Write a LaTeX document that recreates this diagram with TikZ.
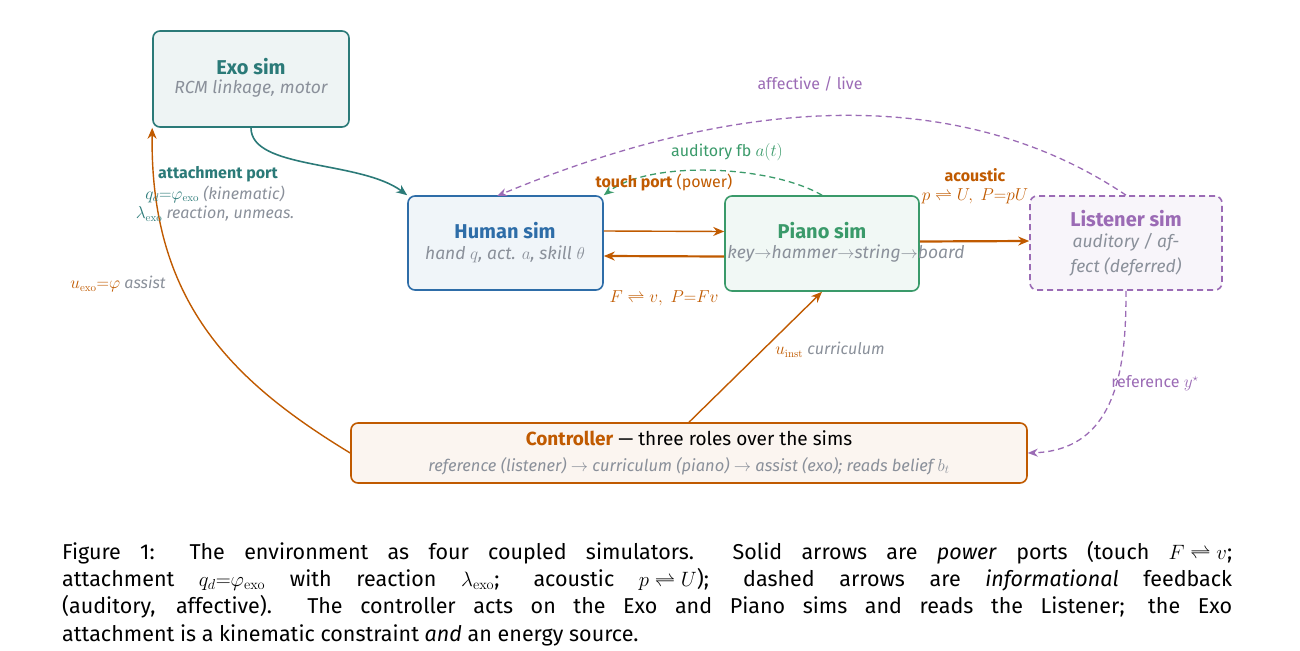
\documentclass[tikz,border=0pt]{standalone}
\usepackage{amsmath}
\usepackage[no-math]{fontspec}
\setmainfont{Fira Sans}
\usetikzlibrary{arrows.meta}
\definecolor{teal}{HTML}{2B7A78}
\definecolor{hblue}{HTML}{2E6DA8}
\definecolor{pgreen}{HTML}{3A9A6A}
\definecolor{lpurp}{HTML}{9B6BB5}
\definecolor{ctrl}{HTML}{C05A00}
\definecolor{subg}{HTML}{8A909A}
\thickmuskip=5mu
\medmuskip=4mu
\begin{document}
\begin{tikzpicture}[x=1pt,y=-1pt,
  box/.style={draw,line width=1.6pt,rounded corners=7pt,minimum width=#1,align=center,inner sep=0pt},
  ttl/.style={font=\fontsize{20}{22}\selectfont\bfseries},
  sub/.style={font=\fontsize{17.5}{20}\selectfont\itshape,text=subg},
  lab/.style={font=\fontsize{16}{18}\selectfont,align=center},
  arr/.style={-{Stealth[length=11pt,width=9pt]},line width=1.6pt},
  darr/.style={-{Stealth[length=10pt,width=8pt]},line width=1.3pt,dash pattern=on 6pt off 4pt}]
\useasboundingbox (0,0) rectangle (1300,650);
\node[box=196pt,minimum height=96pt,draw=teal,fill=teal!8] (exo) at (251,79) {};
\node[ttl,text=teal] at (251,67) {Exo sim};
\node[sub] at (251,89) {RCM linkage, motor};
\node[box=195pt,minimum height=94pt,draw=hblue,fill=hblue!7] (hum) at (505.5,243) {};
\node[ttl,text=hblue] at (505,231) {Human sim};
\node[sub] at (505,254) {hand $q$, act. $a$, skill $\theta$};
\node[box=194pt,minimum height=95pt,draw=pgreen,fill=pgreen!7] (pia) at (822,243.5) {};
\node[ttl,text=pgreen] at (822,231) {Piano sim};
\node[sub] at (846,254) {key$\to$hammer$\to$string$\to$board};
\node[box=192pt,minimum height=94pt,draw=lpurp,fill=lpurp!7,dash pattern=on 6pt off 4pt] (lis) at (1126,243) {};
\node[ttl,text=lpurp] at (1126,219) {Listener sim};
\node[sub] at (1126,242) {auditory / af-};
\node[sub] at (1126,267) {fect (deferred)};
\node[box=676pt,minimum height=60pt,draw=ctrl,fill=ctrl!6] (ctl) at (689,453) {};
\node[lab,font=\fontsize{19}{20}\selectfont] at (689,438) {\textbf{\color{ctrl}Controller} --- three roles over the sims};
\node[sub,font=\fontsize{16.5}{18}\selectfont\itshape] at (689,466) {reference (listener) $\to$ curriculum (piano) $\to$ assist (exo); reads belief $b_t$};
% connectors
\draw[arr,teal] (exo.south) .. controls (251,170) and (360,160) .. (hum.north west);
\draw[arr,ctrl,line width=1.4pt] ([yshift=12pt]hum.east) -- ([yshift=12pt]pia.west);
\draw[arr,ctrl,line width=2.2pt] ([yshift=-13pt]pia.west) -- ([yshift=-13pt]hum.east);
\draw[arr,ctrl,line width=2.2pt] ([yshift=2pt]pia.east) -- ([yshift=2pt]lis.west);
\draw[darr,pgreen] (pia.north) .. controls (770,165) and (650,160) .. (hum.north east);
\draw[darr,lpurp] (lis.north) .. controls (1000,110) and (800,70) .. (497,196);
\draw[darr,lpurp] (lis.south) .. controls (1126,360) and (1120,450) .. (ctl.east);
\draw[arr,ctrl,line width=1.4pt] (ctl.north) -- (pia.south);
\draw[arr,ctrl,line width=1.4pt] (ctl.west) .. controls (230,380) and (150,300) .. (exo.south west);
% labels
\node[lab,text=lpurp] at (810,84) {affective / live};
\node[lab,text=pgreen] at (727,152) {auditory fb $a(t)$};
\node[lab,text=ctrl] at (664,183) {\textbf{touch port} (power)};
\node[lab,text=ctrl] at (664,298) {$F\rightleftharpoons v,\;P{=}Fv$};
\node[lab,text=ctrl] at (975,175) {\textbf{acoustic}};
\node[lab,text=ctrl] at (975,196) {$p\rightleftharpoons U,\;P{=}pU$};
\node[lab,text=teal] at (218,174) {\textbf{attachment port}};
\node[lab] at (215,194) {\color{teal}$q_d{=}\varphi_{\mathrm{exo}}$ \color{subg}\itshape(kinematic)};
\node[lab] at (215,214) {\color{teal}$\lambda_{\mathrm{exo}}$ \color{subg}\itshape reaction, unmeas.};
\node[lab] at (118,284) {\color{ctrl}$u_{\mathrm{exo}}{=}\varphi$ \color{subg}\itshape assist};
\node[lab] at (830,350) {\color{ctrl}$u_{\mathrm{inst}}$ \color{subg}\itshape curriculum};
\node[lab,text=lpurp] at (1155,383) {reference $y^\star$};
\node[anchor=north west,inner sep=0pt,text width=1170pt,align=justify,font=\fontsize{21.5}{27.3}\selectfont] (cap) at (62,541) {Figure 1: The environment as four coupled simulators.\ \ Solid arrows are \emph{power} ports (touch $F\rightleftharpoons v$;\linebreak attachment $q_d{=}\varphi_{\mathrm{exo}}$ with reaction $\lambda_{\mathrm{exo}}$; acoustic $p\rightleftharpoons U$); dashed arrows are \emph{informational} feedback\linebreak (auditory, affective).\ \ The controller acts on the Exo and Piano sims and reads the Listener; the Exo\linebreak attachment is a kinematic constraint \emph{and} an energy source.\par};
\end{tikzpicture}
\end{document}
